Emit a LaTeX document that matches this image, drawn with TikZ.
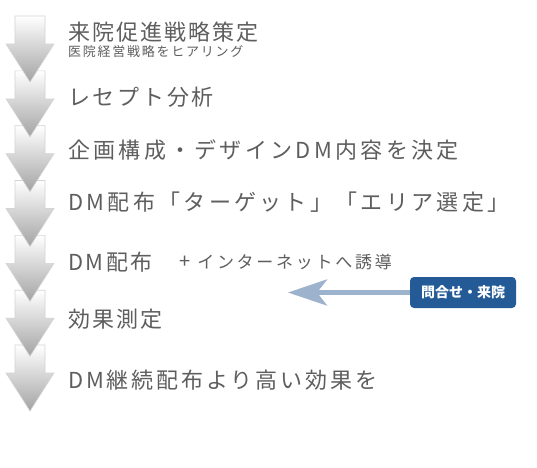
\documentclass[tikz,border=0pt]{standalone}
\usepackage{fontspec}
\setmainfont{Noto Sans CJK JP}
\usetikzlibrary{arrows.meta}
\definecolor{txt}{HTML}{5E5E5E}
\definecolor{badgeblue}{HTML}{245B96}
\definecolor{arrowblue}{HTML}{9DB2CC}
\definecolor{stepedge}{HTML}{D4D4D4}
\tikzset{
  stepline/.style={anchor=base west, inner sep=0pt, text=txt, font=\fontsize{22pt}{24pt}\selectfont\addfontfeature{LetterSpace=#1}},
  stepline/.default=9,
  subline/.style={anchor=base west, inner sep=0pt, text=txt, font=\fontsize{13pt}{15pt}\selectfont\addfontfeature{LetterSpace=13.5}},
  noteline/.style={anchor=base west, inner sep=0pt, text=txt, font=\fontsize{17pt}{19pt}\selectfont\addfontfeature{LetterSpace=16}},
  badge/.style={fill=badgeblue, rounded corners=4pt, minimum width=106pt, minimum height=31pt, inner sep=0pt, text=white, font=\fontsize{14pt}{16pt}\selectfont\bfseries},
  steparrow/.style={top color=white, bottom color=black!36, draw=stepedge, line width=0.6pt, line join=miter}
}
\newcommand{\steparrowat}[1]{%
  \path[steparrow] (30pt-15pt,-#1) -- (30pt+15pt,-#1) -- (30pt+15pt,-#1-28pt) -- (30pt+24pt,-#1-28pt)
    -- (30pt,-#1-66pt) -- (30pt-24pt,-#1-28pt) -- (30pt-15pt,-#1-28pt) -- cycle;}
\begin{document}
\begin{tikzpicture}[x=1pt,y=1pt]
\useasboundingbox[fill=white] (0,0) rectangle (537,-467);
% step arrows, drawn bottom first so earlier heads lie on top
\steparrowat{345pt}
\steparrowat{290.2pt}
\steparrowat{235.3pt}
\steparrowat{180.5pt}
\steparrowat{125.7pt}
\steparrowat{70.8pt}
\steparrowat{16pt}
% texts
\node[stepline] (s1) at (68,-40) {来院促進戦略策定};
\node[subline] (s1b) at (68,-56) {医院経営戦略をヒアリング};
\node[stepline=12.5] (s2) at (68,-105.5) {レセプト分析};
\node[stepline=15] (s3) at (68,-158) {企画構成・デザインDM内容を決定};
\node[stepline=15] (s4) at (68,-210.5) {DM配布「ターゲット」「エリア選定」};
\node[stepline=11] (s5) at (68,-270) {DM配布};
\node[noteline] (s5b) at (179,-268.5) {{\fontsize{20pt}{20pt}\selectfont +}\hspace{7pt}インターネットへ誘導};
\node[stepline] (s6) at (68,-327.5) {効果測定};
\node[stepline=13] (s7) at (68,-388.5) {DM継続配布より高い効果を};
% badge and arrow
\node[badge] (b) at (463,-292.5) {問合せ・来院};
\coordinate (tip) at (288,-292.5);
\draw[arrowblue, line width=5pt, -{Stealth[length=39pt, width=26pt, inset=10pt]}] (b.west) -- (tip);
\end{tikzpicture}
\end{document}
